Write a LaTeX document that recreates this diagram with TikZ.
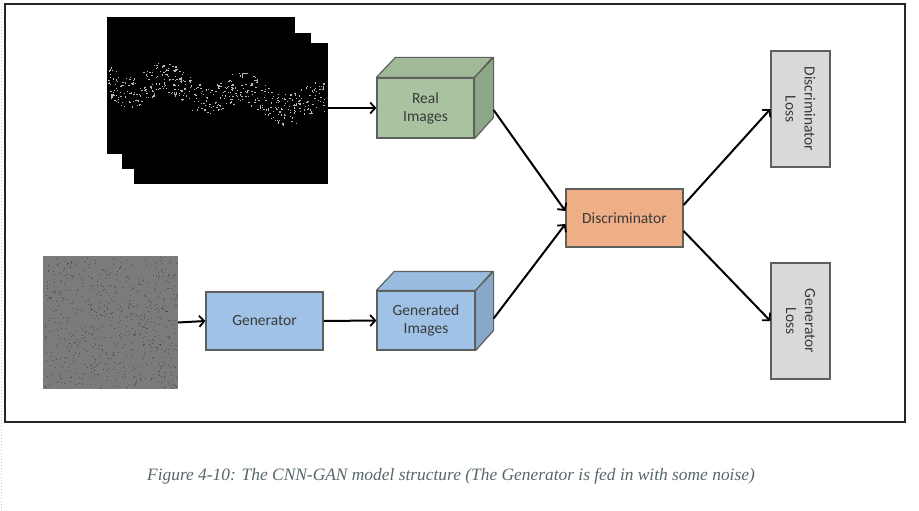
\documentclass[tikz,border=0pt]{standalone}
\usepackage{fontspec}
\setmainfont{Liberation Serif}
\newfontfamily\boxfont{Carlito}
\usetikzlibrary{arrows.meta,calc}
\definecolor{boxline}{HTML}{5E605E}
\definecolor{boxtext}{HTML}{3A3A3A}
\definecolor{realfront}{HTML}{A9C3A1}
\definecolor{realtop}{HTML}{A0BA98}
\definecolor{realside}{HTML}{8DA686}
\definecolor{genfront}{HTML}{A0C2E6}
\definecolor{gentop}{HTML}{9ABCDF}
\definecolor{genside}{HTML}{88A8CB}
\definecolor{discfill}{HTML}{EFAF86}
\definecolor{lossfill}{HTML}{D9D9D9}
\definecolor{noisefill}{HTML}{7B7C79}
\definecolor{noisedot}{HTML}{4E4F4E}
\definecolor{captioncol}{HTML}{56676A}
\definecolor{wavedot}{HTML}{B8BCB4}
\tikzset{
  boxnode/.style={draw=boxline, line width=1.2pt, inner sep=0pt, font=\boxfont\fontsize{15.5}{18}\selectfont, text=boxtext, align=center},
  losstext/.style={rotate=-90, font=\boxfont\fontsize{15.5}{19}\selectfont, text=boxtext, align=center},
  flow/.style={line width=2pt, -{Straight Barb[length=5pt,width=11pt,line width=1.8pt]}},
}
\begin{document}
\begin{tikzpicture}[x=1pt,y=-1pt]
\useasboundingbox (0,0) rectangle (919,511);
% faint left margin line
\draw[gray!35, dotted, line width=1pt] (1.5,0) -- (1.5,511);
% outer frame
\draw[line width=1.6pt, black!85] (5,4) rectangle (905,422);

% stack of real images
\fill[black] (107,17) rectangle (295,154);
\fill[black] (122,33) rectangle (311,169);
\fill[black] (134,43) rectangle (328,184);
\node[inner sep=0pt, minimum width=194pt, minimum height=141pt] (stack) at (231,113.5) {};
\pgfmathsetseed{11}
\foreach \i in {1,...,520} {
  \pgfmathsetmacro\px{108+218*rnd}
  \pgfmathsetmacro\py{80+9*sin((\px-107)*4.6)+0.12*(\px-107)+16*rand}
  \fill[wavedot] (\px,\py) rectangle ++(1.2,1.2);
}

% noise square
\node[fill=noisefill, inner sep=0pt, minimum width=135pt, minimum height=133pt] (noise) at (110.5,322.5) {};
\foreach \i in {1,...,650} {
  \pgfmathsetmacro\px{44+133*rnd}
  \pgfmathsetmacro\py{257+131*rnd}
  \fill[noisedot] (\px,\py) rectangle ++(1,1);
}

% generator
\node[boxnode, fill=genfront, minimum width=117pt, minimum height=58pt] (gen) at (264.5,321) {Generator};

% real images cuboid
\node[boxnode, fill=realfront, minimum width=97pt, minimum height=60pt] (real) at (425.5,108) {Real\\Images};
\filldraw[fill=realtop, draw=boxline, line width=1.2pt, line join=round] (real.north west) -- ++(19,-20) -- ++(97,0) -- (real.north east) -- cycle;
\filldraw[fill=realside, draw=boxline, line width=1.2pt, line join=round] (real.north east) -- ++(19,-20) -- ++(0,60) -- (real.south east) -- cycle;

% generated images cuboid
\node[boxnode, fill=genfront, minimum width=98pt, minimum height=59pt] (gimg) at (426,320.5) {Generated\\Images};
\filldraw[fill=gentop, draw=boxline, line width=1.2pt, line join=round] (gimg.north west) -- ++(18,-19) -- ++(98,0) -- (gimg.north east) -- cycle;
\filldraw[fill=genside, draw=boxline, line width=1.2pt, line join=round] (gimg.north east) -- ++(18,-19) -- ++(0,59) -- (gimg.south east) -- cycle;

% discriminator
\node[boxnode, fill=discfill, minimum width=117pt, minimum height=58pt] (disc) at (624.5,218) {Discriminator};

% loss boxes
\node[boxnode, fill=lossfill, minimum width=59pt, minimum height=116pt] (dloss) at (800.5,109) {};
\node[losstext] (dlosst) at (dloss.center) {Discriminator\\Loss};
\node[boxnode, fill=lossfill, minimum width=59pt, minimum height=116pt] (gloss) at (800.5,321) {};
\node[losstext] (glosst) at (gloss.center) {Generator\\Loss};

% connectors
\coordinate (stackout) at (328,108);
\coordinate (realout) at ($(real.east)+(19,2)$);
\coordinate (gimgout) at ($(gimg.east)+(18,-2)$);
\coordinate (discin1) at ($(disc.west)+(0,-7)$);
\coordinate (discin2) at ($(disc.west)+(0,6)$);
\coordinate (discout1) at ($(disc.east)+(0,-13)$);
\coordinate (discout2) at ($(disc.east)+(0,13)$);
\draw[flow] (stackout) -- (real.west);
\draw[flow] (noise.east) -- (gen.west);
\draw[flow] (gen.east) -- (gimg.west);
\draw[flow] (realout) -- (discin1);
\draw[flow] (gimgout) -- (discin2);
\draw[flow] (discout1) -- (dloss.west);
\draw[flow] (discout2) -- (gloss.west);

% caption
\node[font=\itshape\fontsize{17.4}{20}\selectfont, text=captioncol] (caption) at (451,476) {Figure 4-10: The CNN-GAN model structure (The Generator is fed in with some noise)};
\end{tikzpicture}
\end{document}
